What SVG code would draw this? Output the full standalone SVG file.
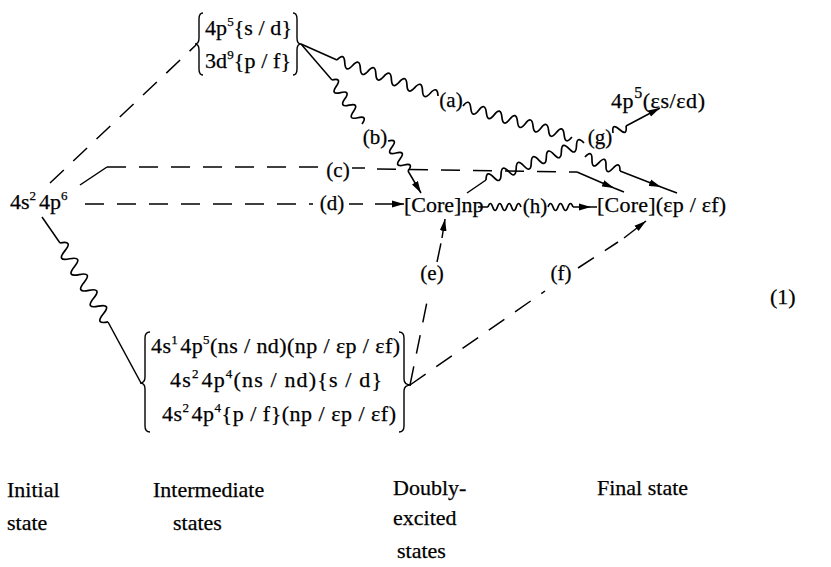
<svg xmlns="http://www.w3.org/2000/svg" width="831" height="567" viewBox="0 0 831 567">
<defs>
<style>
text{font-family:"Liberation Serif","Times New Roman",serif;fill:#000;stroke:#000;stroke-width:0.25}
.st{font-size:22px}
.lb{font-size:21px;text-anchor:middle}
.sup{font-size:13px}
.ln{fill:none;stroke:#000;stroke-width:1.5}
.ds{fill:none;stroke:#000;stroke-width:1.5;stroke-dasharray:19 13}
.wv{fill:none;stroke:#000;stroke-width:1.7}
.br{fill:none;stroke:#000;stroke-width:1.4}
</style>
<marker id="ah" markerWidth="12" markerHeight="8" refX="12" refY="4" orient="auto" markerUnits="userSpaceOnUse"><path d="M0,0.6 L12,4 L0,7.4 z" fill="#000"/></marker>
</defs>
<rect width="831" height="567" fill="#fff"/>

<g id="connectors">
<!-- initial to top intermediate -->
<path class="ds" d="M50,183 L196,45"/>
<!-- initial to bottom intermediate (wavy) -->
<path class="ln" d="M42,217 L60,243"/>
<path class="wv" transform="translate(60,243) rotate(58.7)" d="M0,0q4.62,-13 9.24,0t9.24,0 9.24,0 9.24,0 9.24,0 9.24,0 9.24,0 9.24,0 9.24,0 9.24,0"/>
<path class="ln" d="M108,322 L141,383"/>
<!-- (a) -->
<path class="ln" d="M301,44 L337,60"/>
<path class="wv" transform="translate(337,60) rotate(19.6)" d="M0,0q4.125,-10 8.25,0t8.25,0 8.25,0 8.25,0 8.25,0 8.25,0 8.25,0 8.25,0 8.25,0 8.25,0 8.25,0 8.25,0 8.25,0"/>
<path class="wv" transform="translate(463,106) rotate(15.9)" d="M0,0q4.045,-10 8.09,0t8.09,0 8.09,0 8.09,0 8.09,0 8.09,0 8.09,0 8.09,0 8.09,0 8.09,0 8.09,0 8.09,0 8.09,0 8.09,0"/>
<path class="wv" transform="translate(585,157) rotate(21.8)" d="M0,0q3.77,-10 7.54,0t7.54,0 7.54,0 7.54,0 7.54,0"/>
<path class="ln" d="M620,171 L661,187 L677,193" marker-mid="url(#ah)"/>
<!-- (b) -->
<path class="ln" d="M301,44 L332,80"/>
<path class="wv" transform="translate(332,80) rotate(55.7)" d="M0,0q3.805,-10 7.61,0t7.61,0 7.61,0 7.61,0 7.61,0 7.61,0 7.61,0"/>
<path class="wv" transform="translate(388,141) rotate(56.3)" d="M0,0q3.6,-10 7.21,0t7.21,0 7.21,0 7.21,0 7.21,0"/>
<path class="ln" d="M408,171 L421,193" marker-end="url(#ah)"/>
<!-- (c) -->
<path class="ln" d="M80,185 L107,167"/>
<path class="ds" d="M107,167 L318,167"/>
<path class="ln" d="M352,168 L365,168"/>
<path class="ds" d="M377,169 L577,172"/>
<path class="ln" d="M577,172 L614,188 L624,192" marker-mid="url(#ah)"/>
<!-- (d) -->
<path class="ds" d="M85,204 L313,204"/>
<path class="ln" d="M349,204 L363,204"/>
<path class="ln" d="M375,204 L404,204" marker-end="url(#ah)"/>
<!-- (e) -->
<path class="ds" d="M410,385 L428,297"/>
<path class="ds" d="M437,262 L441,243"/>
<path class="ln" d="M442,238 L445,219" marker-end="url(#ah)"/>
<!-- (f) -->
<path class="ds" d="M410,385 L545,291"/>
<path class="ds" d="M578,268 L618,242"/>
<path class="ln" d="M624,238 L646,221" marker-end="url(#ah)"/>
<!-- (g) -->
<path class="ln" d="M467,193 L486,180"/>
<path class="wv" transform="translate(486,180) rotate(-20.7)" d="M0,0q4.03,-10 8.06,0t8.06,0 8.06,0 8.06,0 8.06,0 8.06,0 8.06,0 8.06,0 8.06,0 8.06,0 8.06,0 8.06,0 8.06,0"/>
<path class="wv" transform="translate(613,133) rotate(-28.3)" d="M0,0q3.7,-10 7.4,0t7.4,0"/>
<path class="ln" d="M626,126 L660,108" marker-end="url(#ah)"/>
<!-- (h) -->
<path class="ln" d="M478,207 L488,207"/>
<path class="wv" transform="translate(488,207)" d="M0,0q2.355,-7 4.71,0t4.71,0 4.71,0 4.71,0 4.71,0 4.71,0 4.71,0"/>
<path class="wv" transform="translate(548,207)" d="M0,0q2.5,-7 5,0t5,0 5,0 5,0 5,0"/>
<path class="ln" d="M573,207 L591,207 L597,207" marker-mid="url(#ah)"/>
<!-- labels -->
<text class="lb" x="451" y="107">(a)</text>
<text class="lb" x="375" y="144">(b)</text>
<text class="lb" x="338" y="177">(c)</text>
<text class="lb" x="332" y="210">(d)</text>
<text class="lb" x="432" y="280">(e)</text>
<text class="lb" x="561" y="280">(f)</text>
<text class="lb" x="600" y="144">(g)</text>
<text class="lb" x="535" y="213">(h)</text>
</g>

<g id="initial">
<text class="st" x="10" y="209" font-size="23">4s<tspan class="sup" dy="-9">2</tspan><tspan dx="3" dy="9">4p</tspan><tspan class="sup" dy="-9">6</tspan></text>
</g>

<g id="intermediate-top">
<path class="br" d="M203,13 Q199,13 199,19 L199,38 Q199,44 195,44 Q199,44 199,50 L199,69 Q199,75 203,75"/>
<path class="br" d="M293,13 Q297,13 297,19 L297,38 Q297,44 301,44 Q297,44 297,50 L297,69 Q297,75 293,75"/>
<text class="st" x="205" y="35" textLength="87" lengthAdjust="spacing">4p<tspan class="sup" dy="-9">5</tspan><tspan dy="9">{s / d}</tspan></text>
<text class="st" x="205" y="68" textLength="86" lengthAdjust="spacing">3d<tspan class="sup" dy="-9">9</tspan><tspan dy="9">{p / f}</tspan></text>
</g>

<g id="intermediate-bottom">
<path class="br" d="M150,332 Q145,332 145,338 L145,377 Q145,383 140,383 Q145,383 145,389 L145,426 Q145,432 150,432"/>
<path class="br" d="M399,332 Q404,332 404,338 L404,379 Q404,385 411,385 Q404,385 404,391 L404,426 Q404,432 399,432"/>
<text class="st" x="151" y="353" textLength="249" lengthAdjust="spacing">4s<tspan class="sup" dy="-9">1</tspan><tspan dx="2" dy="9">4p</tspan><tspan class="sup" dy="-9">5</tspan><tspan dy="9">(ns / nd)(np / εp / εf)</tspan></text>
<text class="st" x="170" y="387" textLength="212" lengthAdjust="spacing">4s<tspan class="sup" dy="-9">2</tspan><tspan dx="2" dy="9">4p</tspan><tspan class="sup" dy="-9">4</tspan><tspan dy="9">(ns / nd){s / d}</tspan></text>
<text class="st" x="162" y="421" textLength="234" lengthAdjust="spacing">4s<tspan class="sup" dy="-9">2</tspan><tspan dx="2" dy="9">4p</tspan><tspan class="sup" dy="-9">4</tspan><tspan dy="9">{p / f}(np / εp / εf)</tspan></text>
</g>

<g id="doubly-excited">
<text class="st" x="404" y="212">[Core]np</text>
</g>

<g id="final-core">
<text class="st" x="597" y="212" textLength="129" lengthAdjust="spacing">[Core](εp / εf)</text>
</g>

<g id="final-4p5">
<text class="st" x="611" y="108" textLength="94" lengthAdjust="spacing">4p<tspan style="font-size:16px" dy="-10">5</tspan><tspan dy="10">(εs/εd)</tspan></text>
</g>

<g id="eq-number">
<text class="st" x="770" y="304">(1)</text>
</g>

<g id="column-labels">
<text class="st" x="7" y="497">Initial</text>
<text class="st" x="7" y="530">state</text>
<text class="st" x="153" y="497">Intermediate</text>
<text class="st" x="173" y="530">states</text>
<text class="st" x="393" y="495">Doubly-</text>
<text class="st" x="393" y="525">excited</text>
<text class="st" x="397" y="558">states</text>
<text class="st" x="597" y="495">Final state</text>
</g>
</svg>
